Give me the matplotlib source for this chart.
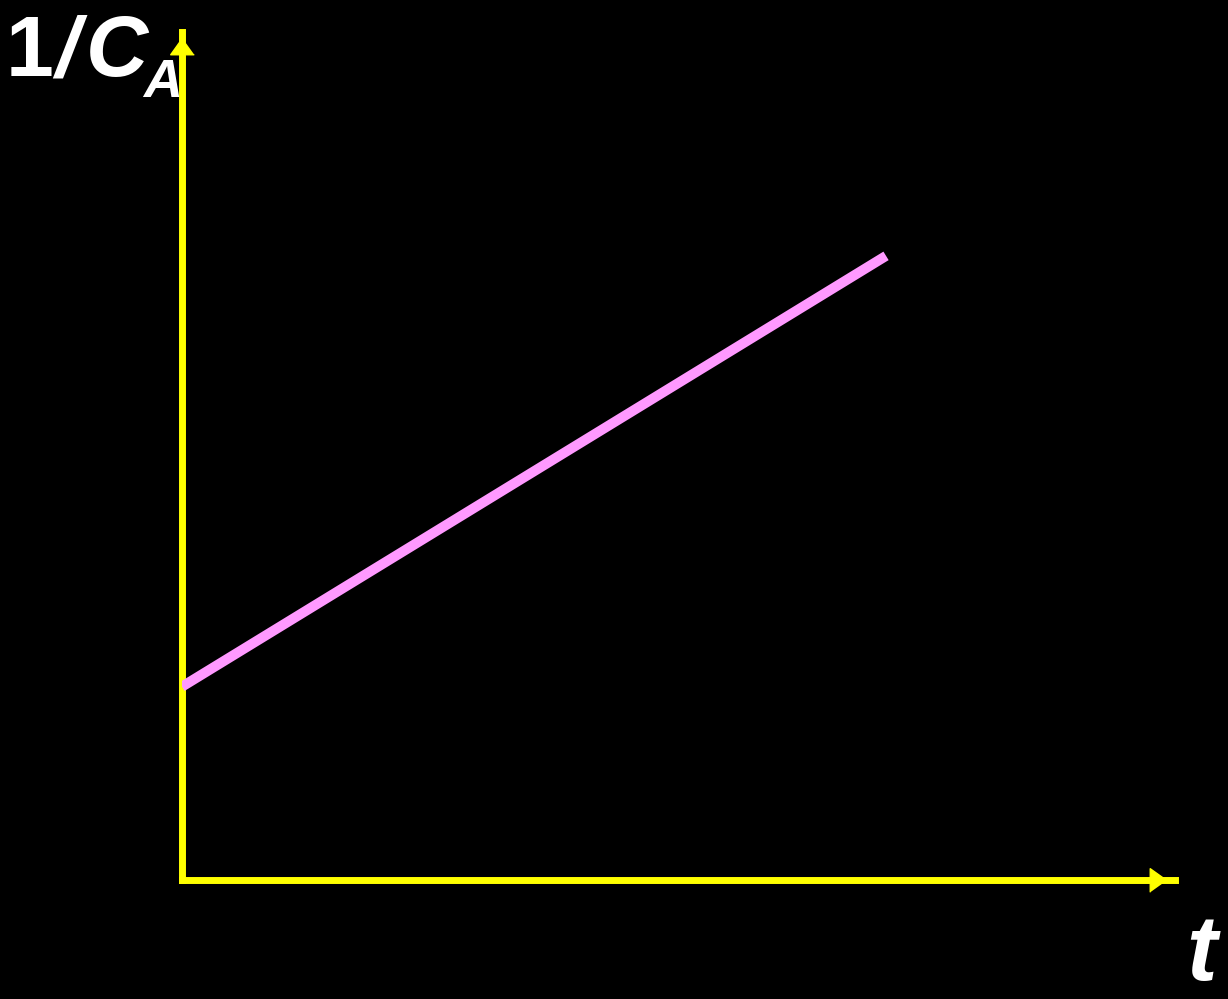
import matplotlib
matplotlib.use("Agg")
import matplotlib.pyplot as plt

# data (arbitrary units)
t_vals = [0.0, 7.09]
inv_ca = [2.28, 7.36]

W, H = 1228, 999
fig = plt.figure(figsize=(W / 100, H / 100), dpi=100, facecolor="black")

# axes origin at pixel (182, 880), x axis ends at 1175, y axis top at 32
x0, y0, x1, y1 = 182, 880, 1175, 32
ax = fig.add_axes([x0 / W, (H - y0) / H, (x1 - x0) / W, (y0 - y1) / H])
ax.set_facecolor("black")
ax.set_xlim(0, 10)
ax.set_ylim(0, 10)

for s in ["top", "right"]:
    ax.spines[s].set_visible(False)
for s in ["left", "bottom"]:
    ax.spines[s].set_color("#FFFF00")
    ax.spines[s].set_linewidth(5)
    ax.spines[s].set_capstyle("projecting")
ax.set_xticks([])
ax.set_yticks([])

# arrow heads
up = [(0, 0.7), (-1, -0.7), (1, -0.7)]
right = [(0.7, 0), (-0.7, 1), (-0.7, -1)]
ax.plot([0], [0.983], marker=up, markersize=17, color="#FFFF00",
        transform=ax.transAxes, clip_on=False, linestyle="none")
ax.plot([0.983], [0], marker=right, markersize=17, color="#FFFF00",
        transform=ax.transAxes, clip_on=False, linestyle="none")

# the line
ax.plot(t_vals, inv_ca, color="#FF99FF", linewidth=7.2, solid_capstyle="butt", zorder=3)

# labels
fam = "Liberation Sans"
fig.text(6 / W, 1 - 76 / H, "1", color="white", fontsize=62, fontweight="bold",
         family=fam, ha="left", va="baseline")
fig.text(55 / W, 1 - 76 / H, "/", color="white", fontsize=62, fontweight="bold",
         fontstyle="italic", family=fam, ha="left", va="baseline")
fig.text(86 / W, 1 - 76 / H, "C", color="white", fontsize=62, fontweight="bold",
         fontstyle="italic", family=fam, ha="left", va="baseline")
fig.text(143 / W, 1 - 97 / H, "A", color="white", fontsize=39, fontweight="bold",
         fontstyle="italic", family=fam, ha="left", va="baseline")
fig.text(1186 / W, 1 - 980 / H, "t", color="white", fontsize=66, fontweight="bold",
         fontstyle="italic", family=fam, ha="left", va="baseline")

fig.savefig("out.png", dpi=100, facecolor="black")
